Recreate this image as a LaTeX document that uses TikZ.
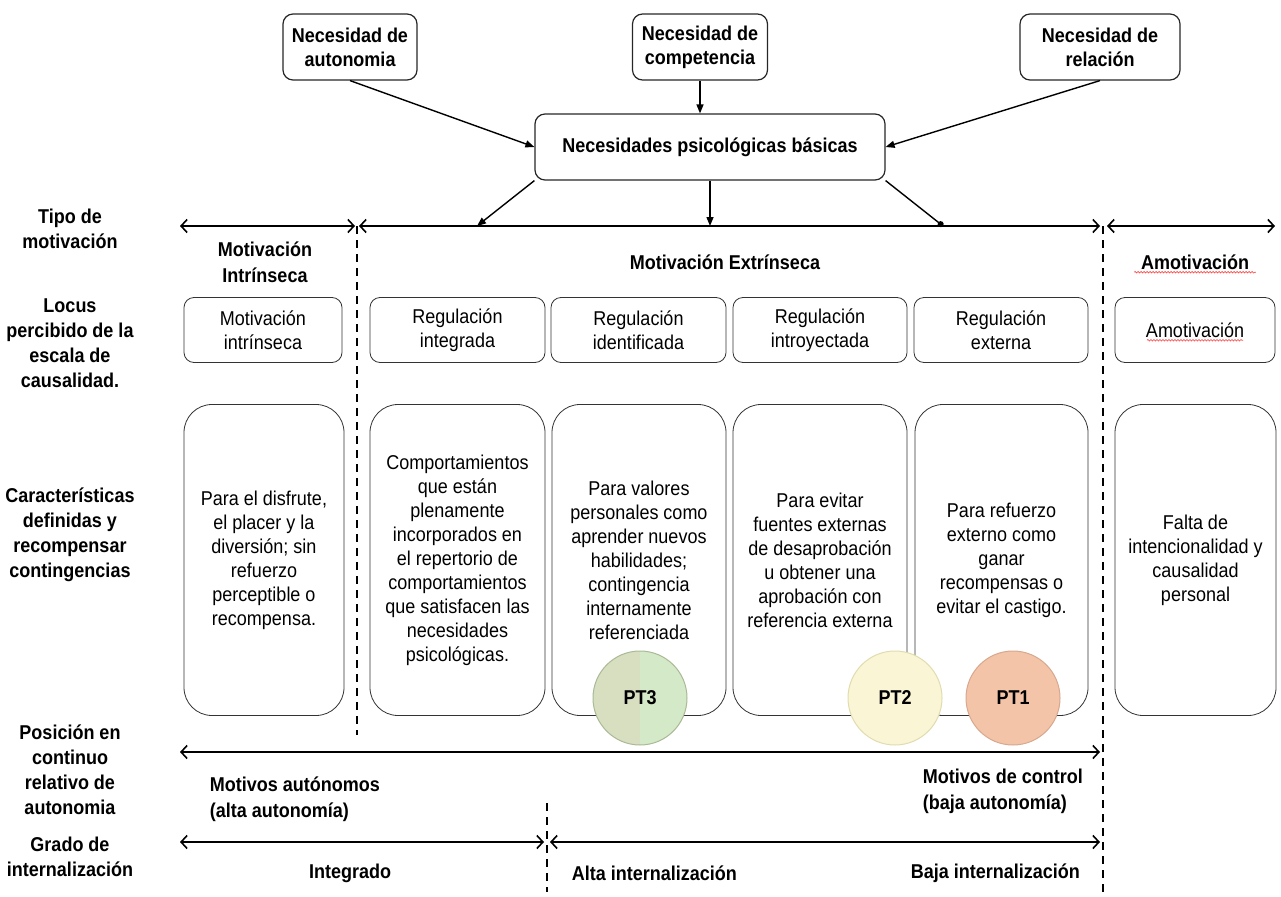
\documentclass[tikz,border=0pt]{standalone}
\usepackage{fontspec}
\setmainfont{Liberation Sans}[FakeStretch=0.9]
\usetikzlibrary{arrows.meta,positioning,decorations.pathmorphing}
\definecolor{ptgreena}{RGB}{216,222,192}
\definecolor{ptgreenb}{RGB}{212,233,200}
\definecolor{ptgreenline}{RGB}{170,185,150}
\definecolor{ptyellow}{RGB}{250,245,212}
\definecolor{ptyellowline}{RGB}{225,220,175}
\definecolor{ptorange}{RGB}{244,196,168}
\definecolor{ptorangeline}{RGB}{215,168,142}
\tikzset{
  need/.style={draw=black!85, line width=1.2pt, rounded corners=10pt, align=center, font=\bfseries, minimum height=66pt},
  locus/.style={draw=black!80, line width=0.8pt, rounded corners=10pt, align=center, minimum height=65pt},
  tall/.style={draw=black!80, line width=0.8pt, rounded corners=28pt, align=center, minimum height=311pt},
  rowlabel/.style={align=center, font=\fontsize{20}{25}\selectfont\bfseries},
  head/.style={align=center, font=\fontsize{20}{26}\selectfont\bfseries},
  conn/.style={line width=1.4pt, -{Triangle[length=9pt,width=7pt]}},
  axis/.style={line width=1.6pt, {Straight Barb[length=6pt,width=13pt]}-{Straight Barb[length=6pt,width=13pt]}},
  sep/.style={line width=1.3pt, dash pattern=on 8pt off 6pt},
  ptcircle/.style={circle, minimum size=94pt, font=\bfseries, line width=1pt},
  spell/.style={draw=red!75, line width=0.6pt, decorate, decoration={snake, amplitude=0.8pt, segment length=3pt}},
}
\begin{document}
\fontsize{20}{24}\selectfont
\begin{tikzpicture}[x=1pt, y=-1pt]
  \useasboundingbox (0,0) rectangle (1281,896);
  \node[need, minimum width=134pt] (aut) at (350,47) {Necesidad de\\autonomia};
  \node[need, minimum width=135pt] (comp) at (700,47) {Necesidad de\\competencia};
  \node[need, minimum width=160pt] (rel) at (1100,47) {Necesidad de\\relación};
  \node[need, minimum width=350pt] (bas) at (710,147) {Necesidades psicológicas básicas};
  \draw[conn] (aut.south) -- (bas.west);
  \draw[conn] (comp.south) -- (comp.south |- bas.north);
  \draw[conn] (rel.south) -- (bas.east);

  \coordinate (m1) at (477,226);
  \coordinate (m2) at (710,226);
  \coordinate (m3) at (943,226);
  \draw[conn] (bas.south west) -- (m1);
  \draw[conn] (bas.south) -- (m2);
  \draw[line width=1.4pt, -{Circle[length=6pt]}] (bas.south east) -- (m3);

  \coordinate (a0) at (180,226);
  \coordinate (a1) at (355,226);
  \coordinate (a2) at (359,226);
  \coordinate (a3) at (1100,226);
  \coordinate (a4) at (1107,226);
  \coordinate (a5) at (1275,226);
  \draw[axis] (a0) -- (a1);
  \draw[axis] (a2) -- (a3);
  \draw[axis] (a4) -- (a5);

  \coordinate (d1t) at (357,226);
  \coordinate (d1b) at (357,735);
  \coordinate (d2t) at (1103,226);
  \coordinate (d2b) at (1103,896);
  \coordinate (d3t) at (547,803);
  \coordinate (d3b) at (547,892);
  \draw[sep] (d1t) -- (d1b);
  \draw[sep] (d2t) -- (d2b);
  \draw[sep] (d3t) -- (d3b);

  \node[rowlabel] (lTipo) at (70,229) {Tipo de\\motivación};
  \node[rowlabel] (lLocus) at (70,343) {Locus\\percibido de la\\escala de\\causalidad.};
  \node[rowlabel] (lCar) at (70,535) {Características\\definidas y\\recompensar\\contingencias};
  \node[rowlabel] (lPos) at (70,770) {Posición en\\continuo\\relativo de\\autonomia};
  \node[rowlabel] (lGrado) at (70,857) {Grado de\\internalización};

  \node[head] (hInt) at (265,262) {Motivación\\Intrínseca};
  \node[head] (hExt) at (725,262) {Motivación Extrínseca};
  \node[head] (hAmo) at (1195,262) {Amotivación};
  \draw[spell] ([yshift=-3pt]hAmo.base west) -- ([yshift=-3pt]hAmo.base east);

  \node[locus, minimum width=158pt] (loc1) at (263,330) {Motivación\\intrínseca};
  \node[locus, minimum width=175pt] (loc2) at (457.5,330) {Regulación\\integrada};
  \node[locus, minimum width=175pt] (loc3) at (638.5,330) {Regulación\\identificada};
  \node[locus, minimum width=174pt] (loc4) at (820,330) {Regulación\\introyectada};
  \node[locus, minimum width=174pt] (loc5) at (1001,330) {Regulación\\externa};
  \node[locus, minimum width=160pt] (loc6) at (1195,330) {Amotivación};
  \draw[spell] ([xshift=-48pt,yshift=-3pt]loc6.base) -- ([xshift=48pt,yshift=-3pt]loc6.base);

  \node[tall, minimum width=160pt] (car1) at (264,560) {Para el disfrute,\\el placer y la\\diversión; sin\\refuerzo\\perceptible o\\recompensa.};
  \node[tall, minimum width=175pt] (car2) at (457.5,560) {Comportamientos\\que están\\plenamente\\incorporados en\\el repertorio de\\comportamientos\\que satisfacen las\\necesidades\\psicológicas.};
  \node[tall, minimum width=174pt] (car3) at (639,560) {Para valores\\personales como\\aprender nuevos\\habilidades;\\contingencia\\internamente\\referenciada};
  \node[tall, minimum width=174pt] (car4) at (820,560) {Para evitar\\fuentes externas\\de desaprobación\\u obtener una\\aprobación con\\referencia externa};
  \node[tall, minimum width=173pt] (car5) at (1001.5,560) {Para refuerzo\\externo como\\ganar\\recompensas o\\evitar el castigo.};
  \node[tall, minimum width=161pt] (car6) at (1195.5,560) {Falta de\\intencionalidad y\\causalidad\\personal};

  \node[ptcircle, fill=ptgreena, draw=ptgreenline,
    path picture={\fill[ptgreenb] (path picture bounding box.north) rectangle (path picture bounding box.south east);}] (pt3) at (640,698) {PT3};
  \node[ptcircle, fill=ptyellow, draw=ptyellowline] (pt2) at (895,698) {PT2};
  \node[ptcircle, fill=ptorange, draw=ptorangeline] (pt1) at (1013,698) {PT1};

  \coordinate (p0) at (180,752);
  \coordinate (p1) at (1100,752);
  \draw[axis] (p0) -- (p1);
  \node[head, align=left, anchor=west] (mAut) at (203,799) {Motivos autónomos\\(alta autonomía)};
  \node[head, align=left, anchor=west] (mCon) at (916,791) {Motivos de control\\(baja autonomía)};

  \coordinate (g0) at (180,842);
  \coordinate (g1) at (544,842);
  \coordinate (g2) at (550,842);
  \coordinate (g3) at (1100,842);
  \draw[axis] (g0) -- (g1);
  \draw[axis] (g2) -- (g3);
  \node[head] (gInt) at (350,873) {Integrado};
  \node[head, anchor=west] (gAlta) at (565,873) {Alta internalización};
  \node[head, anchor=west] (gBaja) at (904,873) {Baja internalización};
\end{tikzpicture}
\end{document}
